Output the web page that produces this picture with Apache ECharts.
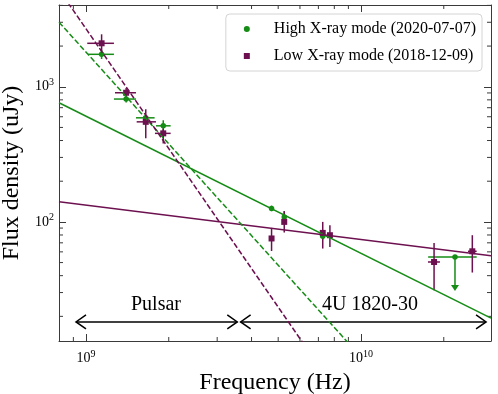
<!DOCTYPE html>
<html>
<head>
<meta charset="utf-8">
<title>Flux density vs frequency</title>
<script src="https://cdn.jsdelivr.net/npm/echarts@6/dist/echarts.min.js"></script>
<style>
  html, body { margin: 0; padding: 0; background: #fff; }
  #chart { width: 498px; height: 394px; }
</style>
</head>
<body>
<div id="chart"></div>
<script>
// ---- data ----
// High X-ray mode (2020-07-07)
var highFreq    = [1.14e9, 1.40e9, 1.65e9, 1.91e9, 4.73e9, 5.26e9, 7.26e9];
var highFlux    = [1738, 811, 589, 514, 125.7, 108.9, 78.4];
var highFreqLo  = [1.019e9, 1.264e9, 1.52e9, 1.797e9, 4.73e9, 5.26e9, 7.26e9];
var highFreqHi  = [1.264e9, 1.52e9, 1.777e9, 2.032e9, 4.73e9, 5.26e9, 7.26e9];
var highFluxLo  = [1604, 764, 560, 464, 120, 102.9, 74];
var highFluxHi  = [1871, 861, 620, 566, 132, 120.6, 83];
// upper limit (high mode)
var ulFreq   = [2.197e10];
var ulFlux   = [55.0];
var ulFreqLo = [1.755e10];
var ulFreqHi = [2.634e10];
var ulTip    = [30.8];

// Low X-ray mode (2018-12-09)
var lowFreq   = [1.14e9, 1.40e9, 1.65e9, 1.91e9, 4.73e9, 5.26e9, 7.26e9, 7.71e9, 1.844e10, 2.54e10];
var lowFlux   = [2097, 903, 550, 452, 75.4, 100, 82.9, 79.7, 50.5, 60.6];
var lowFreqLo = [1.011e9, 1.275e9, 1.529e9, 1.782e9, 4.73e9, 5.26e9, 7.26e9, 7.71e9, 1.752e10, 2.449e10];
var lowFreqHi = [1.264e9, 1.52e9, 1.797e9, 2.032e9, 4.73e9, 5.26e9, 7.26e9, 7.71e9, 1.937e10, 2.634e10];
var lowFluxLo = [1815, 839, 415, 381, 60.9, 83.4, 63.5, 65.3, 31.2, 42.2];
var lowFluxHi = [2444, 978, 681, 492, 90.3, 119.9, 100, 94.5, 69.9, 79.7];

// power-law fits (end points)
var fitHighSolid  = [[7.98e8, 761], [2.97e10, 19.4]];
var fitLowSolid   = [[7.98e8, 141], [2.97e10, 56.1]];
var fitHighDashed = [[7.98e8, 3006], [1.0e10, 10.0]];
var fitLowDashed  = [[7.98e8, 5228], [7.0e9, 8.69]];

// region arrows
var regionNames = ['Pulsar', '4U 1820-30'];
var regionStart = [9.2e8, 3.65e9];
var regionEnd   = [3.55e9, 2.85e10];
var regionText  = [1.797e9, 1.078e10];
var regionFlux  = 18.2;

// minor ticks
var xMinor = [9e8, 2e9, 3e9, 4e9, 5e9, 6e9, 7e9, 8e9, 9e9, 2e10];
var yMinor = [20, 30, 40, 50, 60, 70, 80, 90, 200, 300, 400, 500, 600, 700, 800, 900, 2000, 3000, 4000];

var xMin = 7.98e8, xMax = 2.97e10, yMin = 13.14, yMax = 4027;

var GREEN = '#158c15';
var PURPLE = '#6d1050';
var AXIS = '#3a3a3a';
var FONT = '"Liberation Serif", "DejaVu Serif", serif';
var HIGH = 'High X-ray mode (2020-07-07)';
var LOW = 'Low X-ray mode (2018-12-09)';

function rows() {
  var n = arguments[0].length, out = [];
  for (var i = 0; i < n; i++) {
    var r = [];
    for (var k = 0; k < arguments.length; k++) r.push(arguments[k][i]);
    out.push(r);
  }
  return out;
}

function powLabel(v) {
  var e = Math.log10(v);
  if (Math.abs(e - Math.round(e)) > 1e-6) return '';
  return '{b|10}{s|' + Math.round(e) + '}';
}
var labelRich = {
  b: { fontFamily: FONT, fontSize: 14, color: '#000' },
  s: { fontFamily: FONT, fontSize: 10, color: '#000', padding: [0, 0, 9, 0] }
};

function errRender(color) {
  return function (params, api) {
    var f = api.value(0), F = api.value(1);
    var p = api.coord([f, F]);
    var xl = api.coord([api.value(2), F])[0];
    var xh = api.coord([api.value(3), F])[0];
    var yl = api.coord([f, api.value(4)])[1];
    var yh = api.coord([f, api.value(5)])[1];
    var st = { stroke: color, lineWidth: 1.5 };
    return { type: 'group', children: [
      { type: 'line', shape: { x1: xl, y1: p[1], x2: xh, y2: p[1] }, style: st },
      { type: 'line', shape: { x1: p[0], y1: yl, x2: p[0], y2: yh }, style: st }
    ]};
  };
}

var axisLineStyle = { color: AXIS, width: 1 };

var chart = echarts.init(document.getElementById('chart'));
chart.setOption({
  animation: false,
  backgroundColor: '#fff',
  grid: { left: 59, right: 7, top: 5, bottom: 53, containLabel: false, outerBoundsMode: 'none' },
  legend: {
    right: 16, top: 14,
    orient: 'vertical',
    data: [{ name: HIGH, icon: 'circle' }, { name: LOW, icon: 'rect' }],
    itemWidth: 6, itemHeight: 6, itemGap: 9,
    padding: [6, 6, 6, 18],
    borderColor: '#d4d4d4', borderWidth: 1, borderRadius: 4,
    backgroundColor: 'rgba(255,255,255,0.85)',
    textStyle: { fontFamily: FONT, fontSize: 16, color: '#000', lineHeight: 18, padding: [0, 0, 0, 19] }
  },
  xAxis: [{
    type: 'log', min: xMin, max: xMax, position: 'bottom',
    axisLine: { onZero: false, lineStyle: axisLineStyle },
    axisTick: { inside: true, length: 7, lineStyle: axisLineStyle },
    axisLabel: { formatter: powLabel, rich: labelRich, margin: 8 },
    splitLine: { show: false },
    name: 'Frequency (Hz)', nameLocation: 'middle', nameGap: 12,
    nameTextStyle: { fontFamily: FONT, fontSize: 24, color: '#000' }
  }, {
    type: 'log', min: xMin, max: xMax, position: 'top',
    axisLine: { onZero: false, lineStyle: axisLineStyle },
    axisTick: { inside: true, length: 7, lineStyle: axisLineStyle },
    axisLabel: { show: false }, splitLine: { show: false }
  }],
  yAxis: [{
    type: 'log', min: yMin, max: yMax, position: 'left',
    axisLine: { onZero: false, lineStyle: axisLineStyle },
    axisTick: { inside: true, length: 7, lineStyle: axisLineStyle },
    axisLabel: { formatter: powLabel, rich: labelRich, margin: 5 },
    splitLine: { show: false },
    name: 'Flux density (uJy)', nameLocation: 'middle', nameGap: 28,
    nameTextStyle: { fontFamily: FONT, fontSize: 24, color: '#000' }
  }, {
    type: 'log', min: yMin, max: yMax, position: 'right',
    axisLine: { onZero: false, lineStyle: axisLineStyle },
    axisTick: { inside: true, length: 7, lineStyle: axisLineStyle },
    axisLabel: { show: false }, splitLine: { show: false }
  }],
  series: [
    { type: 'line', data: fitHighSolid, showSymbol: false, silent: true, clip: true,
      lineStyle: { color: GREEN, width: 1.5 } },
    { type: 'line', data: fitLowSolid, showSymbol: false, silent: true, clip: true,
      lineStyle: { color: PURPLE, width: 1.5 } },
    { type: 'line', data: fitHighDashed, showSymbol: false, silent: true, clip: true,
      lineStyle: { color: GREEN, width: 1.5, type: [5.5, 2.4] } },
    { type: 'line', data: fitLowDashed, showSymbol: false, silent: true, clip: true,
      lineStyle: { color: PURPLE, width: 1.5, type: [5.5, 2.4] } },
    // green error bars
    { type: 'custom', silent: true, encode: { x: 0, y: 1 },
      data: rows(highFreq, highFlux, highFreqLo, highFreqHi, highFluxLo, highFluxHi),
      renderItem: errRender(GREEN) },
    // upper limit
    { type: 'custom', silent: true, encode: { x: 0, y: 1 },
      data: rows(ulFreq, ulFlux, ulFreqLo, ulFreqHi, ulTip),
      renderItem: function (params, api) {
        var p = api.coord([api.value(0), api.value(1)]);
        var xl = api.coord([api.value(2), api.value(1)])[0];
        var xh = api.coord([api.value(3), api.value(1)])[0];
        var ty = api.coord([api.value(0), api.value(4)])[1];
        var st = { stroke: GREEN, lineWidth: 1.5 };
        return { type: 'group', children: [
          { type: 'line', shape: { x1: xl, y1: p[1], x2: xh, y2: p[1] }, style: st },
          { type: 'line', shape: { x1: p[0], y1: p[1], x2: p[0], y2: ty - 4 }, style: st },
          { type: 'polygon', shape: { points: [[p[0] - 4, ty - 6], [p[0] + 4, ty - 6], [p[0], ty]] },
            style: { fill: GREEN } }
        ]};
      } },
    { type: 'scatter', name: HIGH, symbol: 'circle', symbolSize: 5.5,
      data: rows(highFreq, highFlux).concat(rows(ulFreq, ulFlux)),
      itemStyle: { color: GREEN, opacity: 1 } },
    // purple error bars
    { type: 'custom', silent: true, encode: { x: 0, y: 1 },
      data: rows(lowFreq, lowFlux, lowFreqLo, lowFreqHi, lowFluxLo, lowFluxHi),
      renderItem: errRender(PURPLE) },
    { type: 'scatter', name: LOW, symbol: 'rect', symbolSize: 6,
      data: rows(lowFreq, lowFlux),
      itemStyle: { color: PURPLE, opacity: 1 } },
    // region arrows
    { type: 'custom', silent: true, encode: { x: 0 },
      data: rows(regionStart, regionEnd, regionText),
      renderItem: function (params, api) {
        var a = api.coord([api.value(0), regionFlux]);
        var b = api.coord([api.value(1), regionFlux]);
        var t = api.coord([api.value(2), regionFlux]);
        var st = { stroke: '#000', lineWidth: 1.5, fill: null };
        return { type: 'group', children: [
          { type: 'line', shape: { x1: a[0], y1: a[1], x2: b[0], y2: b[1] }, style: st },
          { type: 'polyline', shape: { points: [[a[0] + 10, a[1] - 7], [a[0], a[1]], [a[0] + 10, a[1] + 7]] }, style: st },
          { type: 'polyline', shape: { points: [[b[0] - 10, b[1] - 7], [b[0], b[1]], [b[0] - 10, b[1] + 7]] }, style: st },
          { type: 'text', style: { text: regionNames[params.dataIndex], x: t[0], y: t[1] - 17,
            align: 'center', verticalAlign: 'middle', fontFamily: FONT, fontSize: 20, fill: '#000' } }
        ]};
      } },
    // minor ticks x
    { type: 'custom', silent: true, encode: { x: 0, y: 1 }, clip: false,
      data: rows(xMinor, xMinor.map(function () { return 100; })),
      renderItem: function (params, api) {
        var cs = params.coordSys;
        var x = api.coord([api.value(0), 100])[0];
        var st = { stroke: AXIS, lineWidth: 1 };
        return { type: 'group', children: [
          { type: 'line', shape: { x1: x, y1: cs.y + cs.height, x2: x, y2: cs.y + cs.height - 4 }, style: st },
          { type: 'line', shape: { x1: x, y1: cs.y, x2: x, y2: cs.y + 4 }, style: st }
        ]};
      } },
    // minor ticks y
    { type: 'custom', silent: true, encode: { x: 0, y: 1 }, clip: false,
      data: rows(yMinor.map(function () { return 1e9; }), yMinor),
      renderItem: function (params, api) {
        var cs = params.coordSys;
        var y = api.coord([1e9, api.value(1)])[1];
        var st = { stroke: AXIS, lineWidth: 1 };
        return { type: 'group', children: [
          { type: 'line', shape: { x1: cs.x, y1: y, x2: cs.x + 4, y2: y }, style: st },
          { type: 'line', shape: { x1: cs.x + cs.width, y1: y, x2: cs.x + cs.width - 4, y2: y }, style: st }
        ]};
      } }
  ]
});
</script>
</body>
</html>
